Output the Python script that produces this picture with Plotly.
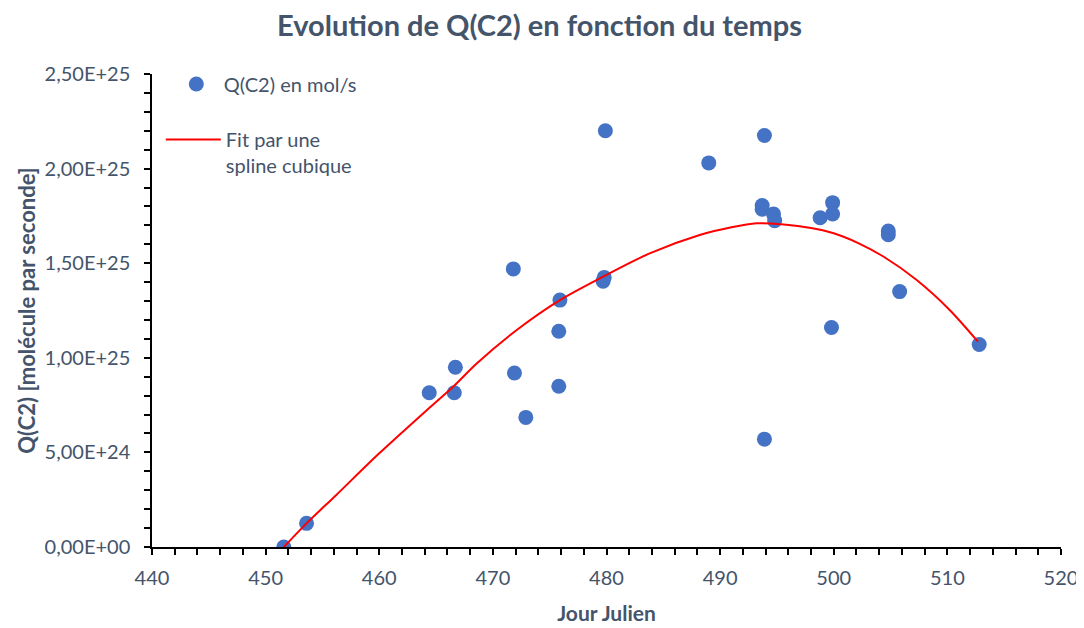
import plotly.graph_objects as go

# Observations
jour = [451.6, 453.6, 464.4, 466.6, 466.7, 471.8, 471.9, 472.9, 475.9, 475.8, 475.8,
        479.8, 479.7, 479.9, 489.0, 493.9, 493.7, 493.7, 494.7, 494.8, 493.9, 498.8,
        499.9, 499.9, 499.8, 504.8, 504.8, 505.8, 512.8]
q_c2 = [0.0, 1.25e24, 8.15e24, 8.15e24, 9.5e24, 1.47e25, 9.2e24, 6.85e24, 1.305e25, 1.14e25, 8.5e24,
        1.425e25, 1.405e25, 2.20e25, 2.03e25, 2.175e25, 1.805e25, 1.785e25, 1.76e25, 1.725e25, 5.7e24, 1.74e25,
        1.82e25, 1.76e25, 1.16e25, 1.67e25, 1.65e25, 1.35e25, 1.07e25]

# Cubic spline fit
fit_jour = [451.6, 453.6, 456.2, 460.0, 464.2, 466.5, 468.6, 472.1, 475.9, 479.7,
            483.8, 488.2, 491.0, 493.2, 495.6, 498.0, 500.0, 502.2, 504.4, 507.3, 510.2, 512.7]
fit_q = [0.0, 1.25e24, 2.74e24, 4.95e24, 7.24e24, 8.47e24, 9.71e24, 1.147e25, 1.305e25, 1.429e25,
         1.552e25, 1.649e25, 1.690e25, 1.711e25, 1.705e25, 1.686e25, 1.658e25, 1.605e25, 1.534e25, 1.411e25, 1.253e25, 1.085e25]

y_tickvals = [0, 5e24, 1e25, 1.5e25, 2e25, 2.5e25]
y_ticktext = ["0,00E+00", "5,00E+24", "1,00E+25", "1,50E+25", "2,00E+25", "2,50E+25"]
x_tickvals = [440, 450, 460, 470, 480, 490, 500, 510, 520]

FONT = "Lato"
TXT = "#44546A"

fig = go.Figure()
fig.add_trace(go.Scatter(
    x=jour, y=q_c2, mode="markers", name="Q(C2) en mol/s",
    marker=dict(color="#4472C4", size=15, line=dict(width=0)),
    legend="legend", showlegend=True,
))
fig.add_trace(go.Scatter(
    x=fit_jour, y=fit_q, mode="lines", name="Fit par une<br>spline cubique",
    line=dict(color="#FF0000", width=2, shape="spline", smoothing=0.8),
    legend="legend2", showlegend=True,
))

axis_common = dict(
    showline=True, linecolor="black", linewidth=1.5, showgrid=False, zeroline=False,
    ticks="outside", ticklen=6, tickwidth=1.5, tickcolor="black", automargin=False,
    tickfont=dict(family=FONT, size=20, color=TXT),
)

fig.update_layout(
    width=1076, height=620,
    showlegend=True,
    paper_bgcolor="white", plot_bgcolor="white",
    margin=dict(l=144, r=23, t=66, b=81, autoexpand=False),
    font=dict(family=FONT, color=TXT),
    title=dict(text="<b>Evolution de Q(C2) en fonction du temps</b>",
               x=0.494, xref="container", xanchor="center", y=0.972, yref="container", yanchor="middle",
               font=dict(family=FONT, size=29, color=TXT)),
    xaxis=dict(range=[440, 520], tickvals=x_tickvals,
               minor=dict(dtick=2, tick0=440, ticks="outside", ticklen=6, tickwidth=1.5, tickcolor="black"),
               ticklabelstandoff=6,
               title=dict(text="<b>Jour Julien</b>", font=dict(family=FONT, size=21, color=TXT), standoff=19),
               **axis_common),
    yaxis=dict(range=[0, 2.5e25], tickvals=y_tickvals, ticktext=y_ticktext,
               minor=dict(dtick=1e24, tick0=0, ticks="outside", ticklen=6, tickwidth=1.5, tickcolor="black"),
               ticklabelstandoff=10,
               title=dict(text="<b>Q(C2) [molécule par seconde]</b>", font=dict(family=FONT, size=22, color=TXT), standoff=3),
               **axis_common),
    legend=dict(x=0.0185, y=0.979, xanchor="left", yanchor="middle", bgcolor="rgba(0,0,0,0)",
                font=dict(family=FONT, size=20, color=TXT), itemwidth=45),
    legend2=dict(x=0.0097, y=0.834, xanchor="left", yanchor="middle", bgcolor="rgba(0,0,0,0)",
                 font=dict(family=FONT, size=20, color=TXT), itemwidth=55, valign="top"),
)

fig.write_html("out.html")
